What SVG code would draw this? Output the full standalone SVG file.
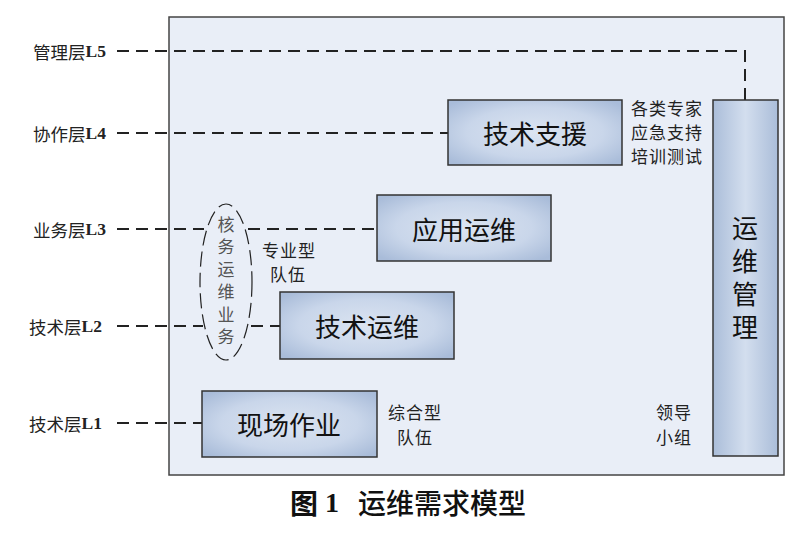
<svg xmlns="http://www.w3.org/2000/svg" width="800" height="533" viewBox="0 0 800 533">
<defs>
<radialGradient id="bx" cx="50%" cy="50%" r="65%">
<stop offset="0" stop-color="#dbe4f1"/>
<stop offset="0.6" stop-color="#c9d6ea"/>
<stop offset="1" stop-color="#a9bcd9"/>
</radialGradient>
<linearGradient id="vb" x1="0" y1="0" x2="1" y2="0">
<stop offset="0" stop-color="#aabdd9"/>
<stop offset="0.5" stop-color="#d3deee"/>
<stop offset="1" stop-color="#aabdd9"/>
</linearGradient>
<style>
.dash{fill:none;stroke:#222;stroke-width:2;stroke-dasharray:12,7}
.box{stroke:#333;stroke-width:1.5}
.bt{font-family:"Noto Sans CJK SC",sans-serif;font-size:26px;fill:#111;text-anchor:middle;dominant-baseline:central}
.vt{font-family:"Noto Sans CJK SC",sans-serif;font-size:26px;fill:#111;writing-mode:vertical-rl;letter-spacing:7px}
.lbl{font-family:"Noto Sans CJK SC",sans-serif;font-size:17.5px;fill:#222;dominant-baseline:central}
.lb{font-family:"Liberation Serif",serif;font-weight:bold}
.sm{font-family:"Noto Sans CJK SC",sans-serif;font-size:17px;letter-spacing:1px;fill:#222;dominant-baseline:central}
.el{font-family:"Noto Sans CJK SC",sans-serif;font-size:17px;fill:#555;writing-mode:vertical-rl;letter-spacing:5.5px}
</style>
</defs>
<rect x="169" y="17" width="615" height="458" fill="#e9eef7" stroke="#444" stroke-width="1.5"/>
<g id="connectors">
<path class="dash" d="M117,51 H745 V100"/>
<path class="dash" d="M117,133 H448"/>
<path class="dash" d="M117,229 H204"/>
<path class="dash" d="M248,229 H377"/>
<path class="dash" d="M117,326 H203"/>
<path class="dash" d="M251,326 H280"/>
<path class="dash" d="M117,423 H202"/>
</g>
<g id="labels">
<text class="lbl" x="33" y="51">管理层<tspan class="lb">L5</tspan></text>
<text class="lbl" x="33" y="133">协作层<tspan class="lb">L4</tspan></text>
<text class="lbl" x="33" y="229">业务层<tspan class="lb">L3</tspan></text>
<text class="lbl" x="29" y="326">技术层<tspan class="lb">L2</tspan></text>
<text class="lbl" x="29" y="423">技术层<tspan class="lb">L1</tspan></text>
</g>
<g id="core">
<ellipse cx="226" cy="282" rx="26" ry="78" fill="none" stroke="#222" stroke-width="1.2" stroke-dasharray="15,6"/>
<text class="el" x="226" y="216">核务运维业务</text>
</g>
<g id="n-support">
<rect class="box" x="448" y="100" width="174" height="65" fill="url(#bx)"/>
<text class="bt" x="535" y="132">技术支援</text>
</g>
<g id="n-app">
<rect class="box" x="377" y="195" width="174" height="66" fill="url(#bx)"/>
<text class="bt" x="464" y="228">应用运维</text>
</g>
<g id="n-tech">
<rect class="box" x="280" y="292" width="174" height="67" fill="url(#bx)"/>
<text class="bt" x="367" y="325">技术运维</text>
</g>
<g id="n-field">
<rect class="box" x="202" y="391" width="175" height="66" fill="url(#bx)"/>
<text class="bt" x="289" y="423">现场作业</text>
</g>
<g id="n-mgmt">
<rect class="box" x="713" y="100" width="65" height="356" fill="url(#vb)"/>
<text class="vt" x="745" y="215">运维管理</text>
</g>
<g id="notes">
<text class="sm" x="631" y="107">各类专家</text>
<text class="sm" x="631" y="131">应急支持</text>
<text class="sm" x="631" y="155">培训测试</text>
<text class="sm" x="262" y="249">专业型</text>
<text class="sm" x="270" y="273">队伍</text>
<text class="sm" x="388" y="411">综合型</text>
<text class="sm" x="397" y="436">队伍</text>
<text class="sm" x="656" y="411">领导</text>
<text class="sm" x="656" y="436">小组</text>
</g>
<g id="caption" style="font-size:28px;fill:#111">
<text x="290" y="502" dominant-baseline="central" style="font-family:'Noto Sans CJK SC',sans-serif;font-weight:bold">图</text>
<text x="325" y="502" dominant-baseline="central" style="font-family:'Liberation Serif',serif;font-weight:bold">1</text>
<text x="358" y="502" dominant-baseline="central" style="font-family:'Noto Sans CJK SC',sans-serif;font-weight:500">运维需求模型</text>
</g>
</svg>
